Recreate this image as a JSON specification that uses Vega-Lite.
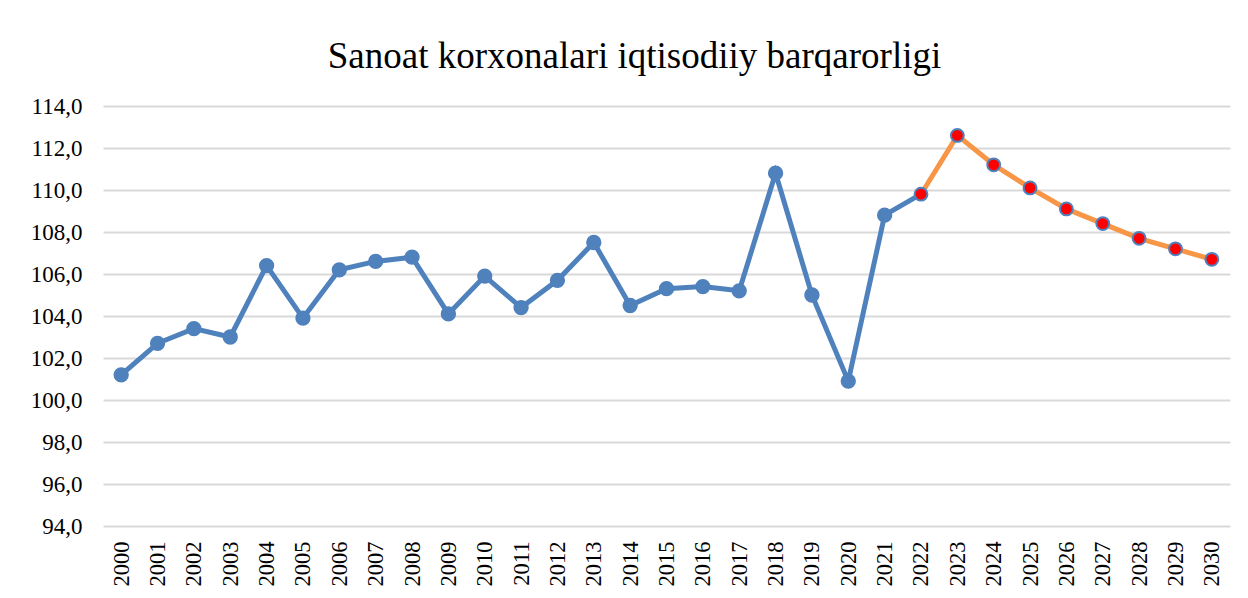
{
  "$schema": "https://vega.github.io/schema/vega-lite/v6.json",
  "autosize": {"type": "none"},
  "width": 1127,
  "height": 420,
  "padding": {"left": 103, "top": 106, "right": 18, "bottom": 72},
  "background": "white",
  "config": {
    "view": {"stroke": null},
    "font": "Liberation Serif"
  },
  "title": {
    "text": "Sanoat korxonalari iqtisodiiy barqarorligi",
    "font": "Liberation Serif",
    "fontSize": 37,
    "fontWeight": "normal",
    "color": "#000000",
    "anchor": "middle",
    "baseline": "alphabetic",
    "offset": -10,
    "dx": -32
  },
  "data": {
    "values": [
      {"year": "2000", "value": 101.2},
      {"year": "2001", "value": 102.7},
      {"year": "2002", "value": 103.4},
      {"year": "2003", "value": 103.0},
      {"year": "2004", "value": 106.4},
      {"year": "2005", "value": 103.9},
      {"year": "2006", "value": 106.2},
      {"year": "2007", "value": 106.6},
      {"year": "2008", "value": 106.8},
      {"year": "2009", "value": 104.1},
      {"year": "2010", "value": 105.9},
      {"year": "2011", "value": 104.4},
      {"year": "2012", "value": 105.7},
      {"year": "2013", "value": 107.5},
      {"year": "2014", "value": 104.5},
      {"year": "2015", "value": 105.3},
      {"year": "2016", "value": 105.4},
      {"year": "2017", "value": 105.2},
      {"year": "2018", "value": 110.8},
      {"year": "2019", "value": 105.0},
      {"year": "2020", "value": 100.9},
      {"year": "2021", "value": 108.8},
      {"year": "2022", "value": 109.8},
      {"year": "2023", "value": 112.6},
      {"year": "2024", "value": 111.2},
      {"year": "2025", "value": 110.1},
      {"year": "2026", "value": 109.1},
      {"year": "2027", "value": 108.4},
      {"year": "2028", "value": 107.7},
      {"year": "2029", "value": 107.2},
      {"year": "2030", "value": 106.7}
    ]
  },
  "encoding": {
    "x": {
      "field": "year",
      "type": "ordinal",
      "scale": {"type": "point", "padding": 0.5},
      "axis": {
        "title": null,
        "labelAngle": -90,
        "labelFont": "Liberation Serif",
        "labelFontSize": 22.5,
        "labelColor": "#000000",
        "labelPadding": 15,
        "ticks": false,
        "domain": false,
        "grid": false
      }
    },
    "y": {
      "field": "value",
      "type": "quantitative",
      "scale": {"domain": [94, 114], "nice": false, "zero": false},
      "axis": {
        "title": null,
        "values": [94, 96, 98, 100, 102, 104, 106, 108, 110, 112, 114],
        "labelExpr": "replace(format(datum.value, '.1f'), '.', ',')",
        "labelFont": "Liberation Serif",
        "labelFontSize": 23,
        "labelColor": "#000000",
        "labelPadding": 21,
        "ticks": false,
        "domain": false,
        "grid": true,
        "gridColor": "#D9D9D9",
        "gridWidth": 1.8
      }
    }
  },
  "layer": [
    {
      "transform": [{"filter": "toNumber(datum.year) <= 2022"}],
      "mark": {"type": "line", "color": "#4F81BD", "strokeWidth": 5}
    },
    {
      "transform": [{"filter": "toNumber(datum.year) >= 2022"}],
      "mark": {"type": "line", "color": "#F79646", "strokeWidth": 5}
    },
    {
      "transform": [{"filter": "toNumber(datum.year) <= 2021"}],
      "mark": {"type": "point", "filled": true, "shape": "circle", "size": 235, "color": "#4F81BD", "opacity": 1}
    },
    {
      "transform": [{"filter": "toNumber(datum.year) >= 2022"}],
      "mark": {"type": "point", "filled": true, "shape": "circle", "size": 165, "fill": "#FF0000", "stroke": "#4F81BD", "strokeWidth": 2, "opacity": 1}
    }
  ]
}
